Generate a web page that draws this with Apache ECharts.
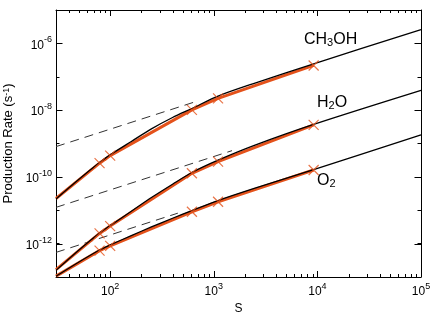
<!DOCTYPE html>
<html>
<head>
<meta charset="utf-8">
<script src="https://cdn.jsdelivr.net/npm/echarts@6/dist/echarts.min.js"></script>
<style>html,body{margin:0;padding:0;background:#fff;}#c{width:436px;height:315px;}</style>
</head>
<body>
<div id="c"></div>
<script>
// ---- data ----
const sModel = [30, 50, 79, 100, 160, 250, 400, 615, 1100, 2500, 9200, 100000];
const ch3ohModel = [2.19e-11, 8.51e-11, 2.69e-10, 4.57e-10, 1.15e-9, 2.75e-9, 6.03e-9, 1.12e-8, 2.63e-8, 6.46e-8, 2.45e-7, 2.57e-6];
const h2oModel   = [1.58e-13, 6.46e-13, 2.09e-12, 3.47e-12, 9.33e-12, 2.40e-11, 6.03e-11, 1.35e-10, 3.16e-10, 8.91e-10, 3.72e-9, 3.89e-8];
const o2Model    = [1.05e-13, 2.82e-13, 6.46e-13, 9.12e-13, 1.74e-12, 3.16e-12, 5.75e-12, 9.77e-12, 1.95e-11, 4.57e-11, 1.66e-10, 1.82e-9];

const sObs = [30, 79, 100, 615, 1100, 9200];
const ch3ohObs = [2.25e-11, 2.57e-10, 4.34e-10, 1.02e-8, 2.26e-8, 2.18e-7];
const h2oObs   = [1.66e-13, 2.02e-12, 3.36e-12, 1.28e-10, 2.86e-10, 3.63e-9];
const o2Obs    = [1.06e-13, 6.17e-13, 8.59e-13, 9.02e-12, 1.80e-11, 1.61e-10];

const ch3ohAsymS = [30, 700];
const ch3ohAsym  = [8.07e-10, 1.88e-8];
const h2oAsymS   = [30, 1500];
const h2oAsym    = [1.22e-11, 6.11e-10];
const o2AsymS    = [30, 450];
const o2Asym     = [5.46e-13, 8.18e-12];

const xMin = 30, xMax = 1e5, yMin = 1e-13, yMax = 1e-5;
const xDecades = [10, 100, 1000, 10000];
const xMinorMult = [2, 3, 4, 5, 6, 7, 8, 9];
const yLabelledDecades = [1e-12, 1e-10, 1e-8, 1e-6];

const labels = [
  {text: 'CH{s|3}OH', x: 304, y: 31},
  {text: 'H{s|2}O', x: 317, y: 94},
  {text: 'O{s|2}', x: 317, y: 172}
];

// ---- build ----
const FONT = 'Liberation Sans, Arial, Helvetica, sans-serif';
const ORANGE = '#e4521b';
const zip = (a, b) => a.map((v, i) => [v, b[i]]);

const xMinorTicks = [];
xDecades.forEach(d => xMinorMult.forEach(m => { const v = d * m; if (v > xMin && v < xMax) xMinorTicks.push([v, yMin]); }));

function powLabel(v, skipOdd) {
  const l = Math.log10(v);
  const e = Math.round(l);
  if (Math.abs(l - e) > 1e-6) return '';
  if (skipOdd && e % 2 !== 0) return '';
  return '{b|10}{s|' + e + '}';
}
const labelRich = {
  b: {fontSize: 12, fontFamily: FONT, color: '#000', lineHeight: 16, verticalAlign: 'bottom'},
  s: {fontSize: 9, fontFamily: FONT, color: '#000', lineHeight: 8, verticalAlign: 'top'}
};

function baseAxis(extra) {
  return Object.assign({
    type: 'log', logBase: 10,
    axisLine: {show: true, onZero: false, lineStyle: {color: '#000', width: 1}},
    splitLine: {show: false},
    minorTick: {show: false},
  }, extra);
}

const option = {
  animation: false,
  backgroundColor: '#fff',
  grid: {left: 56, right: 15, top: 10, bottom: 38, containLabel: false, outerBoundsMode: 'none'},
  xAxis: [
    baseAxis({min: xMin, max: xMax, position: 'bottom',
      name: 'S', nameLocation: 'middle', nameGap: 23,
      nameTextStyle: {fontSize: 12, fontFamily: FONT, color: '#000'},
      axisTick: {show: true, inside: true, length: 6, lineStyle: {color: '#000'}},
      axisLabel: {margin: 5, formatter: v => powLabel(v, false), rich: labelRich}}),
    baseAxis({min: xMin, max: xMax, position: 'top',
      axisTick: {show: true, inside: true, length: 6, lineStyle: {color: '#000'}},
      axisLabel: {show: false}})
  ],
  yAxis: [
    baseAxis({min: yMin, max: yMax, position: 'left',
      name: 'Production Rate (s{s|-1})', nameLocation: 'middle', nameGap: 34, nameRotate: 90,
      nameTextStyle: {fontSize: 13, fontFamily: FONT, color: '#000',
        rich: {s: {fontSize: 9, fontFamily: FONT, color: '#000', verticalAlign: 'top', lineHeight: 8}}},
      axisTick: {show: true, inside: true, length: 3.5, lineStyle: {color: '#000'}},
      axisLabel: {margin: 4, formatter: v => powLabel(v, true), rich: labelRich}}),
    baseAxis({min: yMin, max: yMax, position: 'right',
      axisTick: {show: true, inside: true, length: 3.5, lineStyle: {color: '#000'}},
      axisLabel: {show: false}})
  ],
  series: [
    {type: 'line', data: zip(ch3ohAsymS, ch3ohAsym), showSymbol: false, z: 1,
      lineStyle: {color: '#333', width: 1, type: [9, 6]}},
    {type: 'line', data: zip(h2oAsymS, h2oAsym), showSymbol: false, z: 1,
      lineStyle: {color: '#333', width: 1, type: [9, 6]}},
    {type: 'line', data: zip(o2AsymS, o2Asym), showSymbol: false, z: 1,
      lineStyle: {color: '#333', width: 1, type: [9, 6]}},

    {type: 'line', data: zip(sObs, ch3ohObs), showSymbol: false, z: 2, lineStyle: {color: ORANGE, width: 3}},
    {type: 'line', data: zip(sObs, h2oObs), showSymbol: false, z: 2, lineStyle: {color: ORANGE, width: 3}},
    {type: 'line', data: zip(sObs, o2Obs), showSymbol: false, z: 2, lineStyle: {color: ORANGE, width: 3}},

    {type: 'line', data: zip(sModel, ch3ohModel), showSymbol: false, smooth: 0.3, z: 3, lineStyle: {color: '#000', width: 1.3}},
    {type: 'line', data: zip(sModel, h2oModel), showSymbol: false, smooth: 0.3, z: 3, lineStyle: {color: '#000', width: 1.3}},
    {type: 'line', data: zip(sModel, o2Model), showSymbol: false, smooth: 0.3, z: 3, lineStyle: {color: '#000', width: 1.3}},

    {type: 'scatter', z: 4,
      data: [].concat(zip(sObs, ch3ohObs).slice(1), zip(sObs, h2oObs).slice(1), zip(sObs, o2Obs).slice(1)),
      symbol: 'path://M0,0L10,10M10,0L0,10', symbolSize: 10,
      itemStyle: {color: 'none', borderColor: ORANGE, borderWidth: 1.2}},

    {type: 'custom', z: 5, silent: true, data: xMinorTicks,
      renderItem: (params, api) => {
        const pb = api.coord([api.value(0), yMin]);
        const pt = api.coord([api.value(0), yMax]);
        const x = Math.round(pb[0]) + 0.5;
        return {type: 'group', children: [
          {type: 'line', shape: {x1: x, y1: pb[1], x2: x, y2: pb[1] - 3}, style: {stroke: '#000', lineWidth: 1}},
          {type: 'line', shape: {x1: x, y1: pt[1], x2: x, y2: pt[1] + 3}, style: {stroke: '#000', lineWidth: 1}}
        ]};
      }},
    {type: 'custom', z: 5, silent: true, data: yLabelledDecades.map(v => [xMin, v]),
      renderItem: (params, api) => {
        const pl = api.coord([xMin, api.value(1)]);
        const pr = api.coord([xMax, api.value(1)]);
        const y = Math.round(pl[1]) + 0.5;
        return {type: 'group', children: [
          {type: 'line', shape: {x1: pl[0], y1: y, x2: pl[0] + 6.5, y2: y}, style: {stroke: '#000', lineWidth: 1}},
          {type: 'line', shape: {x1: pr[0], y1: y, x2: pr[0] - 6.5, y2: y}, style: {stroke: '#000', lineWidth: 1}}
        ]};
      }}
  ],
  graphic: labels.map(l => ({
    type: 'text', x: l.x, y: l.y, z: 10,
    style: {
      text: l.text, fill: '#000', fontSize: 16, fontFamily: FONT,
      rich: {
        s: {fontSize: 11, fontFamily: FONT, verticalAlign: 'top', padding: [6, 0, 0, 0]}
      }
    }
  }))
};

const chart = echarts.init(document.getElementById('c'), null, {renderer: 'canvas'});
chart.setOption(option);
</script>
</body>
</html>
